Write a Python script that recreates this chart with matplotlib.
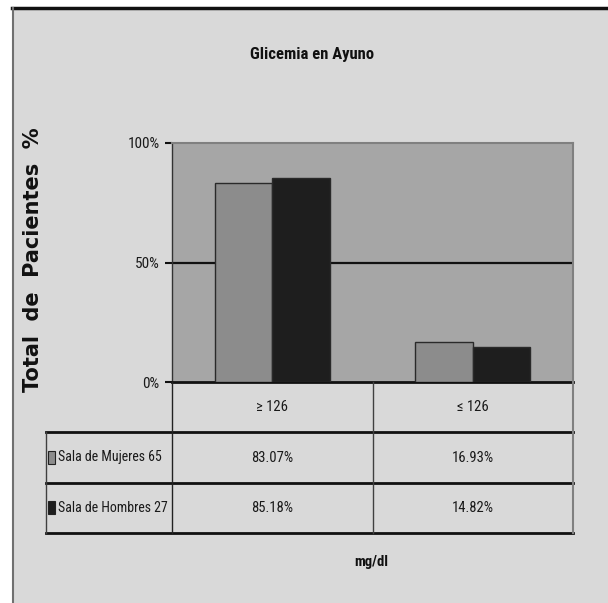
import matplotlib
matplotlib.use("Agg")
import matplotlib.pyplot as plt
from matplotlib.patches import Rectangle
from matplotlib.lines import Line2D

# fasting glucose, share of patients per ward (%)
categories = ["\u2265 126", "\u2264 126"]
series     = ["Sala de Mujeres 65", "Sala de Hombres 27"]
mujeres    = [83.07, 16.93]
hombres    = [85.18, 14.82]
yticks     = [0, 50, 100]

BG      = "#d9d9d9"
PLOT_BG = "#a6a6a6"
COLORS  = ["#8c8c8c", "#1e1e1e"]
NARROW  = ["Roboto Condensed", "DejaVu Sans"]
TXT     = "#1a1a1a"

W, H = 608, 603
fig = plt.figure(figsize=(W / 100, H / 100), dpi=100, facecolor="white")


def fx(px):
    return px / W


def fy(py):
    return 1 - py / H


# grey panel with the heavy top rule and thin left rule
fig.add_artist(Rectangle((fx(13), 0), 1 - fx(13), fy(8), transform=fig.transFigure,
                         facecolor=BG, edgecolor="none", zorder=0))
fig.add_artist(Line2D([fx(12), 1], [fy(8), fy(8)], transform=fig.transFigure,
                      color="#111111", lw=2.5))
fig.add_artist(Line2D([fx(13), fx(13)], [0, fy(8)], transform=fig.transFigure,
                      color="#707070", lw=1.5))

# ── bar chart ──
ax = fig.add_axes([fx(172), fy(382), fx(573) - fx(172), fy(143) - fy(382)])
ax.set_facecolor(PLOT_BG)
n  = len(categories)
bw = 0.287
xs = list(range(n))
for vals, color, off in zip([mujeres, hombres], COLORS, [-bw / 2, bw / 2]):
    ax.bar([x + off for x in xs], vals, width=bw, color=color,
           edgecolor="#2a2a2a", linewidth=1.0, zorder=3)

for t in yticks[1:-1]:
    ax.axhline(t, color="#111111", lw=1.6, zorder=2)

ax.set_xlim(-0.5, n - 0.5)
ax.set_ylim(yticks[0], yticks[-1])
ax.set_xticks([])
ax.set_yticks(yticks)
ax.set_yticklabels([f"{t}%" for t in yticks], family=NARROW, fontsize=11,
                   color=TXT)
ax.tick_params(axis="y", length=5, width=1.5, color="#111111", pad=4)
ax.spines["left"].set_color("#333333")
ax.spines["left"].set_linewidth(1.0)
ax.spines["top"].set_color("#808080")
ax.spines["top"].set_linewidth(1.5)
ax.spines["right"].set_color("#808080")
ax.spines["right"].set_linewidth(1.5)
ax.spines["bottom"].set_color("#111111")
ax.spines["bottom"].set_linewidth(2.0)

# ── data table under the plot ──
left_col = (172 - 46) / ((573 - 172) / n)
tx = fig.add_axes([fx(46), fy(533), fx(573) - fx(46), fy(382) - fy(533)])
tx.set_xlim(-0.5 - left_col, n - 0.5)
tx.set_ylim(3, 0)
tx.axis("off")
x0 = -0.5 - left_col

for i, cat in enumerate(categories):
    tx.text(i, 0.5, cat, ha="center", va="center", family=NARROW,
            fontsize=10.5, color=TXT)

for r, (name, vals, color) in enumerate(zip(series, [mujeres, hombres], COLORS), start=1):
    tx.add_patch(Rectangle((x0 + 0.012, r + 0.5 - 0.13), 0.033, 0.26,
                           facecolor=color, edgecolor="#222222", lw=0.8,
                           clip_on=False))
    tx.text(x0 + 0.062, r + 0.5, name, ha="left", va="center", family=NARROW,
            fontsize=10, color=TXT)
    for i, v in enumerate(vals):
        tx.text(i, r + 0.5, f"{v:.2f}%", ha="center", va="center",
                family=NARROW, fontsize=10.5, color=TXT)

for y in [1, 2, 3]:
    tx.plot([x0, n - 0.5], [y, y], color="#111111", lw=2.0, clip_on=False)
tx.plot([x0, x0], [1, 3], color="#404040", lw=1.0, clip_on=False)
tx.plot([-0.5, -0.5], [0, 3], color="#222222", lw=1.0, clip_on=False)
for i in range(n - 1):
    tx.plot([i + 0.5, i + 0.5], [0, 3], color="#404040", lw=1.0, clip_on=False)
tx.plot([n - 0.5, n - 0.5], [0, 3], color="#808080", lw=1.5, clip_on=False)

# ── titles ──
fig.text(fx(312), fy(55), "Glicemia en Ayuno", ha="center", va="center",
         family=NARROW, fontsize=12, fontweight="bold", color="#111111")
fig.text(fx(371), fy(562), "mg/dl", ha="center", va="center",
         family=NARROW, fontsize=10.5, fontweight="bold", color="#111111")
fig.text(fx(33), fy(260), "Total  de  Pacientes  %", ha="center", va="center",
         rotation=90, family=["DejaVu Sans"], fontsize=15,
         fontweight="bold", color="#111111")

fig.savefig("out.png", dpi=100, facecolor="white")
